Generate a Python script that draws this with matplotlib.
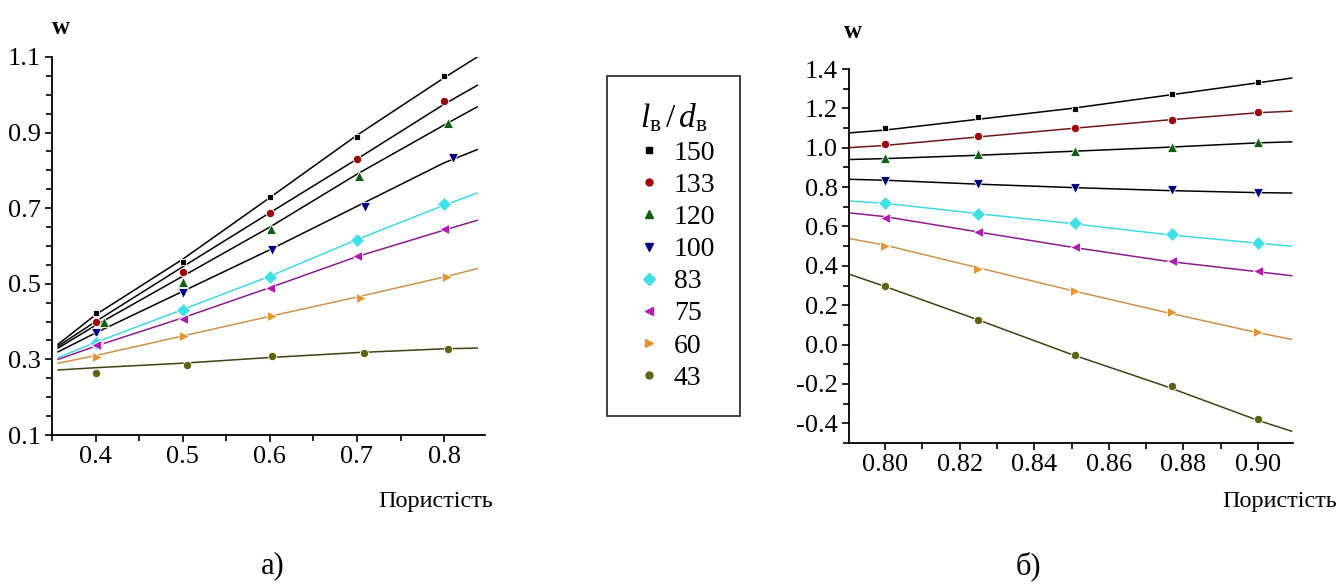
import numpy as np
import matplotlib
matplotlib.use("Agg")
import matplotlib.pyplot as plt
from matplotlib.ticker import MultipleLocator, FormatStrFormatter

plt.rcParams['font.family'] = ['Liberation Serif', 'DejaVu Serif']
plt.rcParams['mathtext.fontset'] = 'custom'
plt.rcParams['mathtext.it'] = 'Liberation Serif:italic'
plt.rcParams['mathtext.rm'] = 'Liberation Serif'

ratios = ['150', '133', '120', '100', '83', '75', '60', '43']
markers = ['s', 'o', '^', 'v', 'D', '<', '>', 'o']
mark_colors = ['#000000', '#9b0a0a', '#0f5f14', '#000080', '#3fe0e6',
               '#b21ab2', '#e0952e', '#5f6414']
line_colors_a = ['#000000', '#000000', '#000000', '#000000', '#3fd8dc',
                 '#8a1c8a', '#c8944c', '#3e4214']
line_colors_b = ['#000000', '#6b1a1a', '#000000', '#000000', '#3fd8dc',
                 '#8a1c8a', '#c8944c', '#3e4214']

# ---------------- а) porosity 0.4 .. 0.8 ----------------
xa = [
    [0.400, 0.500, 0.600, 0.700, 0.800],
    [0.400, 0.500, 0.600, 0.700, 0.800],
    [0.410, 0.500, 0.601, 0.702, 0.805],
    [0.400, 0.500, 0.603, 0.709, 0.810],
    [0.400, 0.500, 0.600, 0.700, 0.800],
    [0.400, 0.500, 0.600, 0.700, 0.800],
    [0.402, 0.502, 0.603, 0.705, 0.803],
    [0.400, 0.505, 0.603, 0.708, 0.805],
]
wa = [
    [0.423, 0.557, 0.730, 0.888, 1.050],
    [0.400, 0.530, 0.687, 0.830, 0.984],
    [0.400, 0.505, 0.645, 0.785, 0.925],
    [0.370, 0.475, 0.590, 0.703, 0.833],
    [0.343, 0.430, 0.518, 0.615, 0.711],
    [0.338, 0.407, 0.490, 0.573, 0.645],
    [0.306, 0.363, 0.415, 0.462, 0.518],
    [0.265, 0.285, 0.310, 0.317, 0.327],
]
# fitted curves, read at start, 0.4 ... 0.8, end
xa_fit = [0.357, 0.40, 0.50, 0.60, 0.70, 0.80, 0.838]
wa_fit = [
    [0.340, 0.418, 0.565, 0.728, 0.893, 1.045, 1.100],
    [0.335, 0.400, 0.545, 0.688, 0.830, 0.975, 1.025],
    [0.330, 0.390, 0.520, 0.650, 0.790, 0.920, 0.968],
    [0.320, 0.370, 0.480, 0.590, 0.705, 0.820, 0.855],
    [0.305, 0.345, 0.432, 0.520, 0.617, 0.708, 0.740],
    [0.300, 0.335, 0.410, 0.490, 0.572, 0.642, 0.668],
    [0.290, 0.310, 0.362, 0.414, 0.465, 0.518, 0.540],
    [0.272, 0.278, 0.290, 0.305, 0.318, 0.328, 0.330],
]

# ---------------- б) porosity 0.80 .. 0.90 ----------------
xb = [0.800, 0.825, 0.851, 0.877, 0.900]
wb = [
    [1.100, 1.156, 1.197, 1.273, 1.334],
    [1.019, 1.060, 1.100, 1.140, 1.180],
    [0.948, 0.967, 0.985, 1.005, 1.030],
    [0.830, 0.815, 0.797, 0.785, 0.770],
    [0.720, 0.665, 0.617, 0.560, 0.515],
    [0.642, 0.573, 0.495, 0.424, 0.375],
    [0.500, 0.383, 0.271, 0.165, 0.063],
    [0.297, 0.124, -0.054, -0.210, -0.380],
]
xb_fit = [0.790, 0.800, 0.825, 0.850, 0.875, 0.900, 0.909]
wb_fit = [
    [1.075, 1.090, 1.145, 1.200, 1.265, 1.330, 1.354],
    [1.000, 1.012, 1.055, 1.098, 1.140, 1.178, 1.186],
    [0.940, 0.945, 0.962, 0.982, 1.002, 1.025, 1.030],
    [0.840, 0.835, 0.815, 0.798, 0.783, 0.772, 0.770],
    [0.730, 0.718, 0.665, 0.615, 0.560, 0.515, 0.500],
    [0.670, 0.650, 0.572, 0.495, 0.425, 0.370, 0.350],
    [0.540, 0.505, 0.390, 0.275, 0.165, 0.060, 0.027],
    [0.360, 0.295, 0.125, -0.050, -0.210, -0.385, -0.440],
]

fig = plt.figure(figsize=(13.4, 5.85), dpi=100)
ax1 = fig.add_axes([0.0388, 0.2564, 0.3232, 0.6462])
ax2 = fig.add_axes([0.6336, 0.2427, 0.3314, 0.6393])

msizes = [5, 6, 7, 7, 7, 7, 7, 6]

def style_axes(ax):
    for s in ['top', 'right']:
        ax.spines[s].set_visible(False)
    for s in ['left', 'bottom']:
        ax.spines[s].set_linewidth(1.3)
    ax.tick_params(which='both', direction='out', width=1.2, labelsize=19,
                   pad=3)
    ax.tick_params(which='major', length=5)
    ax.tick_params(which='minor', length=4)

for i in range(len(ratios)):
    ax1.plot(xa_fit, wa_fit[i], color=line_colors_a[i], lw=1.1, zorder=2)
    ax1.plot(xa[i], wa[i], linestyle='none', marker=markers[i],
             ms=msizes[i], color=mark_colors[i], mec='white', mew=0.6,
             zorder=3)
    ax2.plot(xb_fit, wb_fit[i], color=line_colors_b[i], lw=1.1, zorder=2)
    ax2.plot(xb, wb[i], linestyle='none', marker=markers[i], ms=msizes[i],
             color=mark_colors[i], mec='white', mew=0.6, zorder=3)

ax1.set_xlim(0.35, 0.847)
ax1.set_ylim(0.1, 1.1)
ax1.xaxis.set_major_locator(MultipleLocator(0.1))
ax1.xaxis.set_minor_locator(MultipleLocator(0.05))
ax1.set_yticks([0.1, 0.3, 0.5, 0.7, 0.9, 1.1])
ax1.yaxis.set_minor_locator(MultipleLocator(0.05))
ax1.xaxis.set_major_formatter(FormatStrFormatter('%.1f'))
ax1.yaxis.set_major_formatter(FormatStrFormatter('%.1f'))
style_axes(ax1)

ax2.set_xlim(0.7903, 0.9094)
ax2.set_ylim(-0.5, 1.4)
ax2.xaxis.set_major_locator(MultipleLocator(0.02))
ax2.xaxis.set_minor_locator(MultipleLocator(0.01))
ax2.yaxis.set_major_locator(MultipleLocator(0.2))
ax2.yaxis.set_minor_locator(MultipleLocator(0.1))
ax2.xaxis.set_major_formatter(FormatStrFormatter('%.2f'))
ax2.yaxis.set_major_formatter(FormatStrFormatter('%.1f'))
style_axes(ax2)

# axis labels
fig.text(61 / 1340, 1 - 28 / 585, 'w', fontsize=18, fontweight='bold',
         ha='center', va='center')
fig.text(853 / 1340, 1 - 32 / 585, 'w', fontsize=18, fontweight='bold',
         ha='center', va='center')
fig.text(493 / 1340, 1 - 501 / 585, 'Пористість', fontsize=17.5,
         ha='right', va='center')
fig.text(1337 / 1340, 1 - 501 / 585, 'Пористість', fontsize=17.5,
         ha='right', va='center')
fig.text(273 / 1340, 1 - 566 / 585, 'а)', fontsize=22, ha='center',
         va='center')
fig.text(1028 / 1340, 1 - 566 / 585, 'б)', fontsize=22, ha='center',
         va='center')

# legend box
handles = [plt.Line2D([], [], linestyle='none', marker=markers[i],
                      ms=msizes[i] - 1, color=mark_colors[i])
           for i in range(len(ratios))]
leg = fig.legend(handles, ratios, loc='upper left',
                 bbox_to_anchor=(607 / 1340, 1 - 76 / 585),
                 title=r'$l_{\mathrm{в}}\,/\,d_{\mathrm{в}}$',
                 fontsize=20, title_fontsize=24, frameon=True,
                 fancybox=False, edgecolor='black', handlelength=1.2,
                 handletextpad=0.3, labelspacing=0.24, borderpad=0.9,
                 borderaxespad=0, markerscale=1.0)
leg.get_frame().set_linewidth(1.3)

fig.savefig('out.png', dpi=100)
